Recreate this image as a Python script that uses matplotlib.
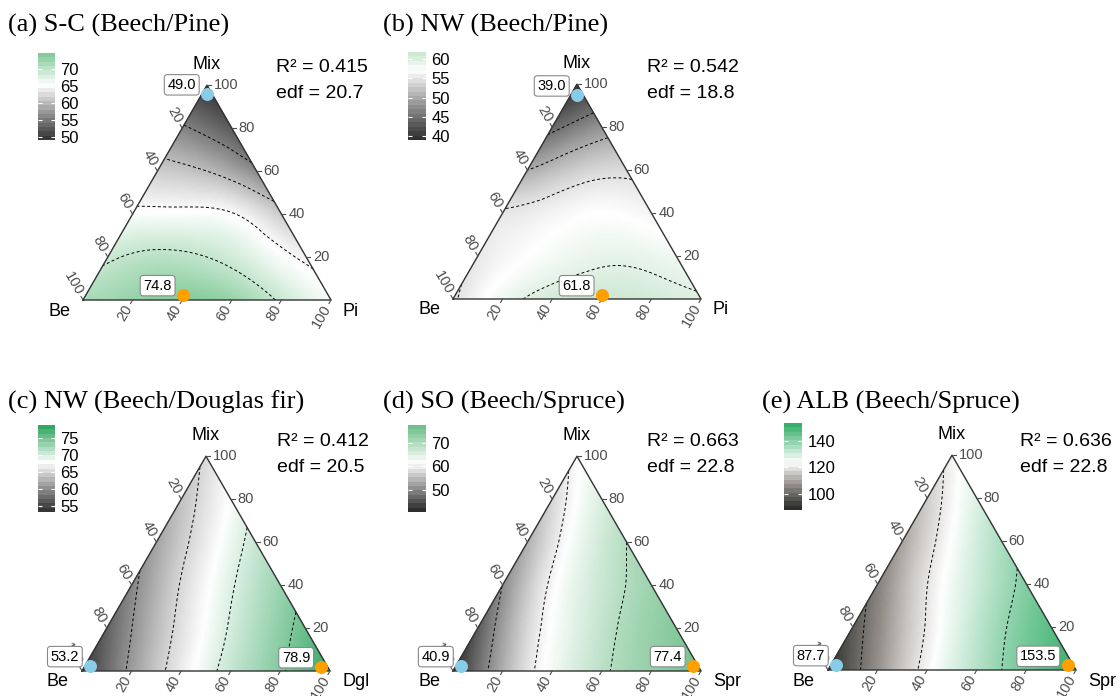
import numpy as np
import matplotlib

matplotlib.use("Agg")
import matplotlib.pyplot as plt
from matplotlib.colors import LinearSegmentedColormap, Normalize
from matplotlib.tri import Triangulation, UniformTriRefiner

W, H = 1120, 696
H3 = np.sqrt(3) / 2
SIDE = 248  # triangle side in px

# composition steps of the read-off grid (share of partner species / of Mix)
SHARES = [0.0, 0.2, 0.4, 0.6, 0.8, 1.0]

# predicted values on the grid, one row per Mix share (0 % .. 100 %),
# each row running from the Be side to the partner side
SC_PINE = [
    [72.0, 73.5, 74.8, 73.5, 69.5, 66.0],
    [69.5, 70.8, 70.0, 67.5, 64.4],
    [65.8, 65.8, 65.2, 61.3],
    [61.5, 60.0, 56.0],
    [55.5, 52.0],
    [49.0],
]
NW_PINE = [
    [54.5, 58.8, 61.2, 61.8, 61.2, 60.3],
    [55.5, 57.5, 59.0, 59.5, 58.6],
    [55.3, 56.5, 57.5, 56.6],
    [50.0, 53.2, 54.3],
    [44.0, 48.0],
    [39.0],
]
NW_DOUGLAS = [
    [53.2, 60.8, 66.7, 71.1, 74.6, 78.9],
    [56.5, 63.1, 68.2, 72.2, 76.0],
    [59.2, 65.2, 69.7, 73.4],
    [61.4, 66.7, 70.9],
    [63.5, 68.2],
    [65.5],
]
SO_SPRUCE = [
    [40.9, 53.6, 62.8, 69.1, 73.4, 77.4],
    [45.5, 57.6, 65.1, 71.0, 74.9],
    [50.1, 60.8, 67.4, 72.5],
    [53.8, 63.1, 70.0],
    [57.6, 65.6],
    [61.3],
]
ALB_SPRUCE = [
    [87.7, 106.3, 122.7, 134.6, 144.8, 153.5],
    [96.0, 113.3, 127.1, 138.9, 147.9],
    [103.3, 119.9, 131.5, 142.3],
    [109.6, 124.4, 136.2],
    [115.9, 129.1],
    [122.2],
]
SURFACES = [SC_PINE, NW_PINE, NW_DOUGLAS, SO_SPRUCE, ALB_SPRUCE]

TITLES = [
    "(a) S-C (Beech/Pine)",
    "(b) NW (Beech/Pine)",
    "(c) NW (Beech/Douglas fir)",
    "(d) SO (Beech/Spruce)",
    "(e) ALB (Beech/Spruce)",
]
PARTNERS = ["Pi", "Pi", "Dgl", "Spr", "Spr"]
R2 = [0.415, 0.542, 0.412, 0.663, 0.636]
EDF = [20.7, 18.8, 20.5, 22.8, 22.8]
MIN_VALUE = [49.0, 39.0, 53.2, 40.9, 87.7]
MAX_VALUE = [74.8, 61.8, 78.9, 77.4, 153.5]
# (partner share, Mix share) of the minimum / maximum
MIN_AT = [(0.02, 0.96), (0.025, 0.95), (0.02, 0.025), (0.02, 0.025), (0.02, 0.025)]
MAX_AT = [(0.39, 0.025), (0.59, 0.02), (0.955, 0.02), (0.955, 0.025), (0.955, 0.022)]
CONTOUR_LEVELS = [
    [55, 60, 65, 70],
    [45, 50, 55, 60],
    [60, 65, 70, 75],
    [50, 60, 70],
    [100, 120, 140],
]
CBAR_TICKS = [
    [50, 55, 60, 65, 70],
    [40, 45, 50, 55, 60],
    [55, 60, 65, 70, 75],
    [50, 60, 70],
    [100, 120, 140],
]
WHITE_AT = [65.5, 57.5, 68.0, 61.5, 124.0]
AXIS_TICKS = [20, 40, 60, 80, 100]

# layout (pixels)
BE_VERTEX = [(83, 300), (453, 299), (82, 671), (453, 671), (828, 670)]
TITLE_POS = [(8, 25), (383, 25), (8, 402), (383, 402), (762, 402)]
CBAR_BOX = [(38, 53, 17, 87), (408, 52, 18, 88), (38, 425, 17, 87),
            (408, 425, 18, 87), (784, 423, 18, 87)]
STATS_POS = [(276, 68), (647, 68), (277, 442), (647, 442), (1020, 442)]
LOW_COLORS = ["#383838", "#333333", "#363636", "#2e2e2e", "#2c2f2c"]
MID_GRAYS = ["#9a9a9a", "#989898", "#9a9a9a", "#979797", "#948e89"]
HIGH_COLORS = ["#86cc9b", "#cde8d3", "#34a862", "#72c08b", "#36b06a"]

SANS = "Liberation Sans"
SERIF = "Liberation Serif"
EDGE = "#333333"
TICK_GRAY = "#4d4d4d"


def pt(px: float) -> float:
    return px * 72 / 100


def px_rect(x: float, top: float, w: float, h: float) -> list[float]:
    return [x / W, 1 - (top + h) / H, w / W, h / H]


def ternary_xy(p, m):
    return p + m / 2, m * H3


def refined_surface(rows):
    xs, ys, zs = [], [], []
    for j, row in enumerate(rows):
        for i, value in enumerate(row):
            x, y = ternary_xy(SHARES[i], SHARES[j])
            xs.append(x)
            ys.append(y)
            zs.append(value)
    tri = Triangulation(xs, ys)
    return UniformTriRefiner(tri).refine_field(np.array(zs), subdiv=4)


def draw_axis_ticks(ax):
    for v in AXIS_TICKS:
        f = v / 100
        specs = (
            # Be axis on the left edge, partner axis on the bottom, Mix on the right
            (ternary_xy(0, 1 - f), (-0.5, H3), -60, "right"),
            (ternary_xy(f, 0), (-0.5, -H3), 60, "right"),
            (ternary_xy(1 - f, f), (1.0, 0.0), 0, "left"),
        )
        for (x, y), (dx, dy), rot, ha in specs:
            tl = 4 / SIDE
            ax.plot([x, x + dx * tl], [y, y + dy * tl], color=TICK_GRAY,
                    lw=0.8, clip_on=False, zorder=3)
            ax.annotate(str(v), (x, y), xytext=(dx * pt(7), dy * pt(7)),
                        textcoords="offset points", ha=ha, va="center",
                        rotation=rot, rotation_mode="anchor", fontsize=10.5,
                        color=TICK_GRAY, family=SANS, annotation_clip=False,
                        zorder=3)


def draw_panel(fig, k):
    bx, by = BE_VERTEX[k]
    ax = fig.add_axes(px_rect(bx, by - SIDE * H3, SIDE, SIDE * H3))
    ax.set_xlim(0, 1)
    ax.set_ylim(0, H3)
    ax.axis("off")

    vmin, vmax = MIN_VALUE[k], MAX_VALUE[k]
    frac = (WHITE_AT[k] - vmin) / (vmax - vmin)
    cmap = LinearSegmentedColormap.from_list(
        f"p{k}",
        [(0, LOW_COLORS[k]), (frac / 2, MID_GRAYS[k]), (frac, "white"),
         (1, HIGH_COLORS[k])],
    )
    norm = Normalize(vmin, vmax, clip=True)

    tri_ref, z_ref = refined_surface(SURFACES[k])
    ax.tripcolor(tri_ref, z_ref, shading="gouraud", cmap=cmap, norm=norm,
                 rasterized=True, zorder=1)
    ax.tricontour(tri_ref, z_ref, levels=CONTOUR_LEVELS[k], colors="black",
                  linewidths=0.7, linestyles=[(0, (3, 2.5))], zorder=2)
    ax.plot([0, 1, 0.5, 0], [0, 0, H3, 0], color=EDGE, lw=1.0,
            clip_on=False, zorder=3)
    draw_axis_ticks(ax)

    # corner names
    ax.annotate("Mix", (0.5, H3), xytext=(0, pt(21)), textcoords="offset points",
                ha="center", va="center", fontsize=13, family=SANS,
                annotation_clip=False)
    ax.annotate("Be", (0, 0), xytext=(pt(-13), pt(-11)), textcoords="offset points",
                ha="right", va="center", fontsize=13, family=SANS,
                annotation_clip=False)
    ax.annotate(PARTNERS[k], (1, 0), xytext=(pt(12), pt(-11)),
                textcoords="offset points", ha="left", va="center",
                fontsize=13, family=SANS, annotation_clip=False)

    # minimum and maximum
    for (p, m), value, color in ((MIN_AT[k], MIN_VALUE[k], "#87cde8"),
                                 (MAX_AT[k], MAX_VALUE[k], "#ff9f00")):
        x, y = ternary_xy(p, m)
        ax.plot(x, y, "o", ms=pt(13), color=color, mec="none",
                clip_on=False, zorder=5)
        ax.annotate(f"{value:.1f}", (x, y), xytext=(pt(-11), pt(9)),
                    textcoords="offset points", ha="right", va="center",
                    fontsize=10.5, family=SANS, annotation_clip=False, zorder=6,
                    bbox=dict(boxstyle="round,pad=0.22", fc="white",
                              ec="#8a8a8a", lw=0.8))

    # colour bar
    cx, cy, cw, ch = CBAR_BOX[k]
    cax = fig.add_axes(px_rect(cx, cy, cw, ch))
    steps = np.linspace(vmin, vmax, 20)
    cax.imshow(steps[:, None], aspect="auto", origin="lower",
               extent=(0, 1, vmin, vmax), cmap=cmap, norm=norm)
    cax.set_xlim(0, 1)
    cax.set_ylim(vmin, vmax)
    cax.set_xticks([])
    cax.set_yticks(CBAR_TICKS[k])
    cax.tick_params(axis="y", direction="in", color="white", length=3,
                    width=0.8, left=True, right=True, labelleft=False,
                    labelright=True, labelsize=12, pad=4)
    for label in cax.get_yticklabels():
        label.set_family(SANS)
    for spine in cax.spines.values():
        spine.set_visible(False)

    # text
    tx, ty = TITLE_POS[k]
    fig.text(tx / W, 1 - ty / H, TITLES[k], ha="left", va="center",
             fontsize=19, family=SERIF)
    sx, sy = STATS_POS[k]
    fig.text(sx / W, 1 - sy / H, f"R\u00b2 = {R2[k]:.3f}", ha="left",
             va="center", fontsize=14, family=SANS)
    fig.text(sx / W, 1 - (sy + 26) / H, f"edf = {EDF[k]:.1f}", ha="left",
             va="center", fontsize=14, family=SANS)


def main() -> None:
    fig = plt.figure(figsize=(W / 100, H / 100), dpi=100)
    for k in range(len(SURFACES)):
        draw_panel(fig, k)
    fig.savefig("out.png", dpi=100)
    plt.close(fig)


if __name__ == "__main__":
    main()
